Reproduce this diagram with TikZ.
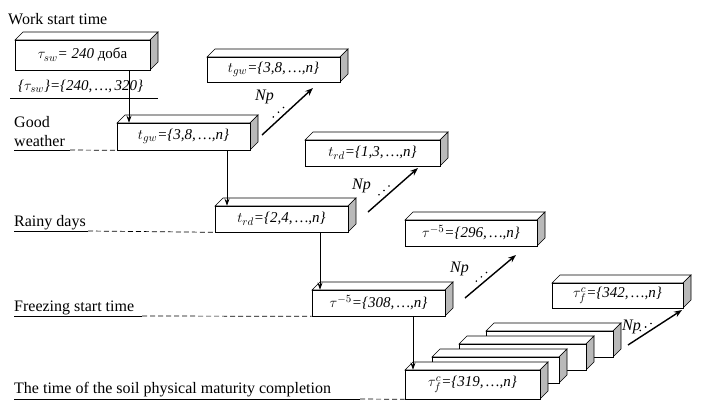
\documentclass[tikz,border=0pt]{standalone}
\usepackage{fontspec}
\setmainfont{Liberation Serif}
\usetikzlibrary{arrows.meta}
\newcommand\cuboid[6]{% name,x1,y1,x2,y2,text
 \fill[white,draw=black,line width=0.6pt] (#2,#3) -- ++(8,-8) -- (#4+8,#3-8) -- (#4,#3) -- cycle;
 \fill[gray!55,draw=black,line width=0.6pt] (#4,#3) -- ++(8,-8) -- (#4+8,#5-8) -- (#4,#5) -- cycle;
 \node[box,minimum width={(#4-#2)*1pt},minimum height={(#5-#3)*1pt}] (#1) at ({(#2+#4)/2},{(#3+#5)/2}) {#6};}
\begin{document}
\begin{tikzpicture}[x=1pt,y=-1pt,
 box/.style={draw,fill=white,line width=0.6pt,inner sep=0pt,font=\itshape\fontsize{15}{17}\selectfont},
 lbl/.style={anchor=base west,inner sep=0pt,font=\fontsize{16}{18}\selectfont},
 arr/.style={-{Stealth[length=7pt,width=5pt]},line width=0.9pt},
 np/.style={-{Stealth[length=8pt,width=6pt]},line width=1.4pt},
 dsh/.style={line width=0.7pt,dash pattern=on 5pt off 3pt}]
\useasboundingbox (0,0) rectangle (702,410);
\node[lbl] (wst) at (8,24) {Work start time};
\cuboid{b0}{15}{40}{150}{70}{$\tau_{sw}$= 240 \textup{доба}}
\node[lbl,font=\itshape\fontsize{15}{17}\selectfont] (set) at (18,90) {\{$\tau_{sw}$\}=\{240,\,…,\,320\}};
\draw[line width=0.6pt] (10,98) -- (158,98);
\cuboid{u1}{207}{57}{340}{82}{$t_{gw}$=\{3,8,\,…,n\}}
\cuboid{u2}{305}{140}{440}{166}{$t_{rd}$=\{1,3,\,…,n\}}
\cuboid{u3}{405}{220}{537}{246}{$\tau^{-5}$=\{296,\,…,n\}}
\cuboid{u4}{552}{283}{683}{308}{$\tau_f^c$=\{342,\,…,n\}}
\cuboid{m1}{117}{123}{250}{150}{$t_{gw}$=\{3,8,\,…,n\}}
\cuboid{m2}{215}{206}{348}{232}{$t_{rd}$=\{2,4,\,…,n\}}
\cuboid{m3}{312}{290}{445}{316}{$\tau^{-5}$=\{308,\,…,n\}}
\cuboid{s3}{486}{331}{613}{357}{}
\cuboid{s2}{459}{344}{586}{370}{}
\cuboid{s1}{432}{357}{559}{383}{}
\cuboid{m4}{405}{370}{540}{399}{$\tau_f^c$=\{319,\,…,n\}}
% vertical arrows
\draw[arr] (b0.south -| 129,0) -- (m1.north -| 129,0);
\draw[arr] (m1.south -| 227,0) -- (m2.north -| 227,0);
\draw[arr] (m2.south -| 320,0) -- (m3.north -| 320,0);
\draw[arr] (m3.south -| 413,0) -- (m4.north -| 413,0);
% Np arrows
\foreach \a/\b/\c/\d/\nx/\ny in {262/135/313/88/255/100, 368/212/418/168/352/189, 465/298/516/255/450/272, 628/345/682/310/622/330}{
 \draw[np] (\a,\b) -- (\c,\d);
 \node[lbl,font=\itshape\fontsize{16}{18}\selectfont] at (\nx,\ny) {Np};
 \foreach \t in {0.3,0.4,0.5}{\fill ({\a+(\c-\a)*\t-4},{\b+(\d-\b)*\t-4}) circle (0.9pt);}
}
% left labels
\node[lbl] (gw) at (14,127) {Good};
\node[lbl] (gw2) at (14,146) {weather};
\draw[line width=0.6pt] (14,150) -- (70,150); \draw[dsh] (70,150) -- (m1.south west);
\node[lbl] (rd) at (14,226) {Rainy days};
\draw[line width=0.6pt] (14,231) -- (88,231); \draw[dsh] (88,231) -- (m2.south west);
\node[lbl] (fs) at (14,311) {Freezing start time};
\draw[line width=0.6pt] (14,316) -- (142,316); \draw[dsh] (142,316) -- (m3.south west);
\node[lbl] (tm) at (14,393) {The time of the soil physical maturity completion};
\draw[line width=0.6pt] (14,399) -- (360,399); \draw[dsh] (360,399) -- (m4.south west);
\end{tikzpicture}
\end{document}
